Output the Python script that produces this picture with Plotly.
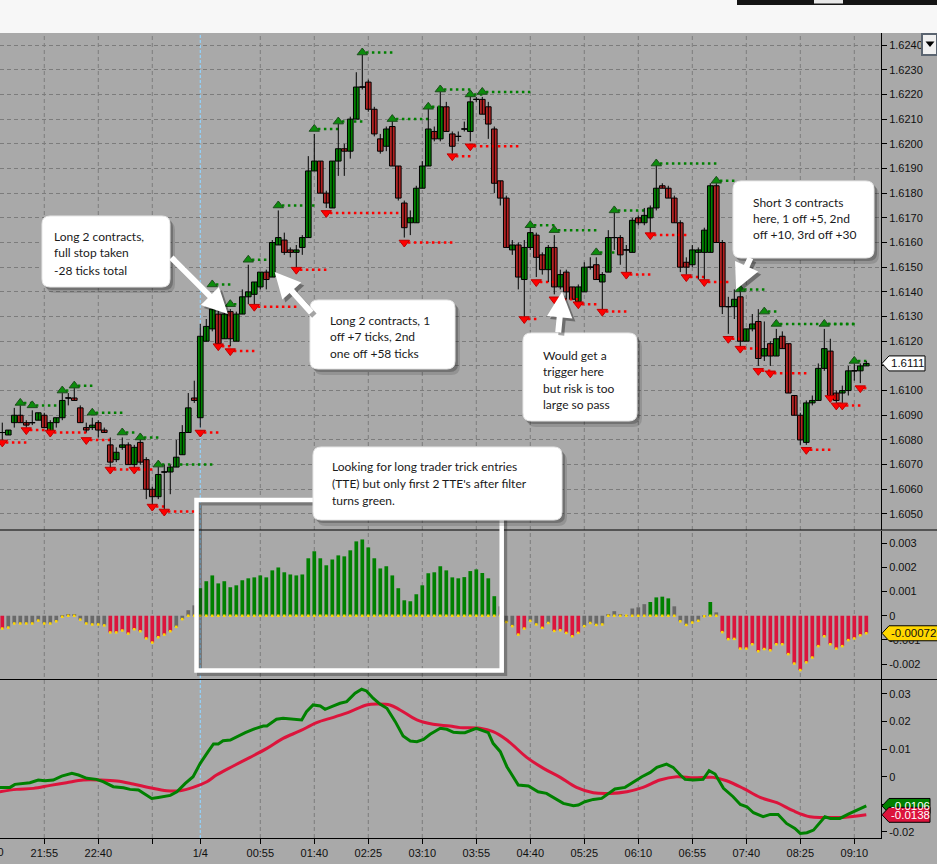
import plotly.graph_objects as go
from plotly.subplots import make_subplots

# ---------------------------------------------------------------
# Data: 5-minutersstaplar, index 0 = 21:20, sista = 09:20
# ---------------------------------------------------------------
tick_bars = [7, 16, 25, 33, 43, 52, 61, 70, 79, 88, 97, 106, 115, 124, 133, 142]
tick_labels = ['21:55', '22:40', '', '1/4', '00:55', '01:40', '02:25', '03:10', '03:55',
               '04:40', '05:25', '06:10', '06:55', '07:40', '08:25', '09:10']
day_break_bar = 33
first_label = '21:10'   # etiketten till vänster om första synliga stapeln

opens = [1.6083, 1.6082, 1.6087, 1.6090, 1.6087, 1.6087, 1.6088, 1.6090, 1.6083, 1.6087,
         1.6089, 1.6097, 1.6097, 1.6093, 1.6085, 1.6085, 1.6087, 1.6084, 1.6078, 1.6072,
         1.6077, 1.6078, 1.6070, 1.6079, 1.6072, 1.6060, 1.6057, 1.6067, 1.6067, 1.6069,
         1.6074, 1.6083, 1.6097, 1.6089, 1.6120, 1.6125, 1.6131, 1.6121, 1.6132, 1.6120,
         1.6131, 1.6138, 1.6139, 1.6142, 1.6148, 1.6146, 1.6159, 1.6161, 1.6157, 1.6156,
         1.6158, 1.6162, 1.6189, 1.6193, 1.6180, 1.6174, 1.6193, 1.6198, 1.6197, 1.6210,
         1.6223, 1.6225, 1.6214, 1.6202, 1.6199, 1.6207, 1.6191, 1.6176, 1.6168, 1.6168,
         1.6182, 1.6191, 1.6205, 1.6202, 1.6215, 1.6204, 1.6203, 1.6206, 1.6205, 1.6218,
         1.6218, 1.6215, 1.6206, 1.6185, 1.6178, 1.6157, 1.6159, 1.6145, 1.6158, 1.6163,
         1.6155, 1.6149, 1.6158, 1.6142, 1.6148, 1.6142, 1.6136, 1.6140, 1.6150, 1.6151,
         1.6144, 1.6148, 1.6162, 1.6162, 1.6157, 1.6156, 1.6170, 1.6168, 1.6170, 1.6174,
         1.6183, 1.6182, 1.6178, 1.6168, 1.6152, 1.6151, 1.6156, 1.6156, 1.6156, 1.6183,
         1.6160, 1.6134, 1.6134, 1.6138, 1.6120, 1.6125, 1.6128, 1.6114, 1.6119, 1.6114,
         1.6122, 1.6119, 1.6098, 1.6090, 1.6079, 1.6095, 1.6096, 1.6109, 1.6116, 1.6099,
         1.6099, 1.6100, 1.6108, 1.6108, 1.6110]
highs = [1.6087, 1.6084, 1.6093, 1.6094, 1.6088, 1.6092, 1.6091, 1.6091, 1.6088, 1.6089,
         1.6099, 1.6099, 1.6101, 1.6094, 1.6087, 1.6089, 1.6088, 1.6085, 1.6081, 1.6077,
         1.6081, 1.6079, 1.6078, 1.6081, 1.6073, 1.6061, 1.6069, 1.6070, 1.6070, 1.6080,
         1.6086, 1.6099, 1.6104, 1.6127, 1.6129, 1.6139, 1.6133, 1.6132, 1.6133, 1.6132,
         1.6141, 1.6151, 1.6144, 1.6148, 1.6149, 1.6161, 1.6173, 1.6164, 1.6158, 1.6159,
         1.6163, 1.6195, 1.6204, 1.6193, 1.6181, 1.6193, 1.6208, 1.6200, 1.6211, 1.6229,
         1.6236, 1.6226, 1.6215, 1.6204, 1.6207, 1.6210, 1.6191, 1.6177, 1.6173, 1.6183,
         1.6193, 1.6215, 1.6207, 1.6221, 1.6217, 1.6205, 1.6205, 1.6209, 1.6220, 1.6219,
         1.6219, 1.6217, 1.6207, 1.6185, 1.6179, 1.6161, 1.6160, 1.6161, 1.6166, 1.6164,
         1.6156, 1.6159, 1.6163, 1.6149, 1.6149, 1.6142, 1.6143, 1.6152, 1.6154, 1.6154,
         1.6148, 1.6165, 1.6172, 1.6163, 1.6159, 1.6170, 1.6171, 1.6174, 1.6175, 1.6192,
         1.6184, 1.6183, 1.6179, 1.6169, 1.6154, 1.6159, 1.6158, 1.6166, 1.6184, 1.6184,
         1.6161, 1.6138, 1.6141, 1.6141, 1.6125, 1.6131, 1.6133, 1.6128, 1.6120, 1.6125,
         1.6124, 1.6119, 1.6098, 1.6091, 1.6096, 1.6098, 1.6111, 1.6125, 1.6121, 1.6100,
         1.6102, 1.6110, 1.6111, 1.6111, 1.6112]
lows = [1.6080, 1.6082, 1.6085, 1.6087, 1.6085, 1.6086, 1.6088, 1.6085, 1.6083, 1.6085,
        1.6088, 1.6094, 1.6096, 1.6087, 1.6083, 1.6084, 1.6081, 1.6083, 1.6068, 1.6071,
        1.6076, 1.6070, 1.6068, 1.6070, 1.6056, 1.6053, 1.6056, 1.6052, 1.6058, 1.6069,
        1.6074, 1.6083, 1.6095, 1.6085, 1.6120, 1.6124, 1.6118, 1.6121, 1.6118, 1.6120,
        1.6131, 1.6135, 1.6135, 1.6141, 1.6141, 1.6146, 1.6159, 1.6155, 1.6154, 1.6150,
        1.6155, 1.6162, 1.6189, 1.6180, 1.6174, 1.6174, 1.6187, 1.6187, 1.6194, 1.6210,
        1.6222, 1.6213, 1.6203, 1.6196, 1.6197, 1.6191, 1.6177, 1.6162, 1.6163, 1.6168,
        1.6182, 1.6191, 1.6201, 1.6201, 1.6205, 1.6196, 1.6201, 1.6205, 1.6201, 1.6217,
        1.6212, 1.6202, 1.6180, 1.6175, 1.6158, 1.6155, 1.6141, 1.6129, 1.6157, 1.6146,
        1.6147, 1.6144, 1.6139, 1.6141, 1.6137, 1.6137, 1.6135, 1.6140, 1.6149, 1.6145,
        1.6132, 1.6148, 1.6157, 1.6151, 1.6148, 1.6156, 1.6167, 1.6167, 1.6163, 1.6173,
        1.6182, 1.6178, 1.6168, 1.6148, 1.6147, 1.6150, 1.6145, 1.6145, 1.6156, 1.6160,
        1.6131, 1.6123, 1.6129, 1.6118, 1.6120, 1.6124, 1.6110, 1.6112, 1.6110, 1.6114,
        1.6117, 1.6099, 1.6090, 1.6078, 1.6078, 1.6094, 1.6096, 1.6108, 1.6097, 1.6095,
        1.6095, 1.6098, 1.6104, 1.6103, 1.6110]
closes = [1.6083, 1.6084, 1.6090, 1.6087, 1.6086, 1.6087, 1.6091, 1.6085, 1.6087, 1.6089,
          1.6096, 1.6097, 1.6096, 1.6087, 1.6084, 1.6086, 1.6084, 1.6083, 1.6071, 1.6075,
          1.6078, 1.6070, 1.6077, 1.6071, 1.6060, 1.6057, 1.6066, 1.6067, 1.6069, 1.6073,
          1.6083, 1.6093, 1.6096, 1.6122, 1.6126, 1.6133, 1.6119, 1.6131, 1.6121, 1.6131,
          1.6138, 1.6140, 1.6144, 1.6148, 1.6145, 1.6160, 1.6162, 1.6156, 1.6156, 1.6157,
          1.6162, 1.6189, 1.6193, 1.6180, 1.6176, 1.6193, 1.6198, 1.6197, 1.6210, 1.6223,
          1.6223, 1.6214, 1.6204, 1.6197, 1.6206, 1.6191, 1.6178, 1.6166, 1.6170, 1.6182,
          1.6191, 1.6206, 1.6202, 1.6215, 1.6205, 1.6199, 1.6203, 1.6206, 1.6217, 1.6218,
          1.6212, 1.6208, 1.6184, 1.6178, 1.6158, 1.6159, 1.6146, 1.6158, 1.6164, 1.6154,
          1.6149, 1.6158, 1.6142, 1.6147, 1.6140, 1.6137, 1.6142, 1.6150, 1.6150, 1.6145,
          1.6147, 1.6162, 1.6162, 1.6155, 1.6157, 1.6169, 1.6168, 1.6171, 1.6174, 1.6182,
          1.6182, 1.6178, 1.6168, 1.6150, 1.6150, 1.6157, 1.6157, 1.6165, 1.6183, 1.6160,
          1.6134, 1.6134, 1.6137, 1.6120, 1.6125, 1.6127, 1.6113, 1.6117, 1.6114, 1.6121,
          1.6117, 1.6099, 1.6090, 1.6080, 1.6095, 1.6096, 1.6109, 1.6117, 1.6098, 1.6096,
          1.6100, 1.6108, 1.6108, 1.6110, 1.6111]

# Swing-toppar (grön pil + prickad linje) och swing-bottnar (röd pil + prickad linje)
sh_bars = [3, 5, 10, 12, 15, 20, 23, 26, 35, 38, 41, 46, 52, 56, 60, 65, 71, 73, 78, 80,
           88, 92, 99, 102, 109, 119, 123, 127, 129, 137, 142]
sh_levels = [1.6095, 1.6094, 1.6100, 1.6102, 1.6091, 1.6083, 1.6081, 1.6070, 1.6143, 1.6135,
             1.6153, 1.6175, 1.6206, 1.6209, 1.6237, 1.6210, 1.6215, 1.6222, 1.6220, 1.6221,
             1.6167, 1.6165, 1.6156, 1.6173, 1.6192, 1.6185, 1.6141, 1.6132, 1.6127, 1.6127,
             1.6112]
sh_ends = [5, 9, 11, 15, 20, 22, 26, 35, 38, 40, 44, 52, 56, 60, 65, 71, 73, 78, 80, 88,
           92, 99, 102, 107, 119, 122, 127, 129, 142, 142, 144]

sl_bars = [0, 4, 8, 14, 18, 22, 25, 27, 33, 36, 38, 42, 49, 54, 67, 75, 78, 87, 89, 92,
           96, 100, 104, 108, 114, 117, 121, 123, 126, 128, 134, 138, 139, 140, 143]
sl_levels = [1.6079, 1.6084, 1.6083, 1.6080, 1.6068, 1.6068, 1.6053, 1.6051, 1.6083, 1.6118,
             1.6116, 1.6134, 1.6149, 1.6172, 1.6160, 1.6195, 1.6199, 1.6129, 1.6144, 1.6137,
             1.6135, 1.6132, 1.6147, 1.6163, 1.6146, 1.6144, 1.6121, 1.6117, 1.6108, 1.6107,
             1.6076, 1.6097, 1.6094, 1.6094, 1.6101]
sl_ends = [4, 8, 14, 18, 22, 25, 27, 32, 36, 38, 42, 49, 54, 66, 75, 78, 86, 89, 92, 96,
           99, 104, 108, 114, 117, 121, 123, 126, 128, 134, 138, 139, 143, 140, 144]

# Filterhistogram och dess tillstånd (g = grön, r = röd, n = neutral)
filter_hist = [-0.00053, -0.00049, -0.00032, -0.00032, -0.00032, -0.00032, -0.00020, -0.00032, -0.00032, -0.00023,
               -0.00004, 0.00006, 0.00006, -0.00016, -0.00032, -0.00036, -0.00036, -0.00040, -0.00069, -0.00069,
               -0.00061, -0.00074, -0.00056, -0.00064, -0.00094, -0.00111, -0.00089, -0.00078, -0.00064, -0.00046,
               -0.00014, 0.00023, 0.00043, 0.00114, 0.00143, 0.00167, 0.00134, 0.00143, 0.00118, 0.00126,
               0.00147, 0.00155, 0.00159, 0.00167, 0.00159, 0.00188, 0.00200, 0.00180, 0.00171, 0.00167,
               0.00171, 0.00238, 0.00267, 0.00238, 0.00209, 0.00233, 0.00250, 0.00246, 0.00271, 0.00308,
               0.00316, 0.00283, 0.00238, 0.00196, 0.00205, 0.00167, 0.00114, 0.00064, 0.00060, 0.00089,
               0.00126, 0.00176, 0.00180, 0.00205, 0.00188, 0.00159, 0.00155, 0.00160, 0.00185, 0.00192,
               0.00177, 0.00155, 0.00081, 0.00039, -0.00026, -0.00043, -0.00078, -0.00053, -0.00021, -0.00036,
               -0.00050, -0.00030, -0.00063, -0.00060, -0.00071, -0.00085, -0.00071, -0.00043, -0.00030, -0.00038,
               -0.00036, 0.00005, 0.00019, 0.00006, 0.00001, 0.00030, 0.00035, 0.00048, 0.00057, 0.00076,
               0.00079, 0.00072, 0.00039, -0.00023, -0.00038, -0.00028, -0.00021, -0.00002, 0.00057, 0.00014,
               -0.00068, -0.00097, -0.00096, -0.00136, -0.00136, -0.00118, -0.00147, -0.00138, -0.00143, -0.00118,
               -0.00118, -0.00159, -0.00198, -0.00225, -0.00193, -0.00173, -0.00126, -0.00085, -0.00118, -0.00136,
               -0.00126, -0.00101, -0.00094, -0.00081, -0.000726]
filter_state = ("rnnnnnnnnnnnnnnnnnrrrrrrrrrrrnnnn"
                "gggggggggggggggggggggggggggggggggggggggggggggggggg"
                "nnnrrnnrnrrrrrnnnnnnnnnnnggggnnnnnngn"
                "rrrrrrrrrrrrrrrrrrrrrrrrr")

# Nedre panelen: snabb (grön) och långsam (röd) linje
fast_bars = [-0.4, 1.3, 2.1, 3.5, 4.6, 6.0, 7.1, 8.5, 9.9, 11.6, 12.7, 14.1, 15.7, 16.8, 18.5,
             20.2, 21.3, 22.7, 24.1, 24.9, 26.0, 28.0, 29.1, 30.5, 31.8, 33.0, 34.3, 35.2, 36.0,
             36.8, 38.0, 39.1, 40.5, 41.8, 43.5, 44.1, 45.7, 46.8, 48.5, 49.9, 50.7, 51.8, 53.0,
             53.8, 55.2, 56.3, 57.4, 58.8, 59.9, 60.7, 61.8, 63.0, 64.1, 65.5, 66.8, 68.0, 69.1,
             70.2, 71.3, 73.0, 74.1, 75.2, 76.3, 77.1, 79.0, 81.0, 81.8, 83.0, 84.1, 85.2, 86.0,
             87.7, 89.3, 90.7, 92.1, 93.5, 95.2, 96.0, 97.1, 98.5, 99.9, 101.0, 102.1, 103.8,
             105.2, 106.6, 108.0, 109.1, 110.7, 111.8, 113.0, 113.8, 115.2, 116.8, 117.8, 118.8,
             120.2, 121.8, 123.0, 124.1, 125.2, 126.8, 128.0, 129.3, 130.7, 132.1, 133.0, 134.1,
             135.2, 136.3, 137.1, 138.0, 139.6, 141.0, 142.4, 144.0]
fast_line = [-0.00387, -0.00387, -0.00278, -0.00242, -0.00218, -0.00121, -0.00145, -0.00121, 0.00024, 0.00121,
             0.00060, -0.00060, -0.00097, -0.00181, -0.00363, -0.00399, -0.00459, -0.00484, -0.00665, -0.00786,
             -0.00750, -0.00677, -0.00544, -0.00242, 0.0, 0.00484, 0.00907, 0.01185, 0.01185, 0.01306,
             0.01330, 0.01451, 0.01596, 0.01717, 0.01838, 0.01838, 0.02080, 0.02116, 0.02080, 0.02056,
             0.02358, 0.02600, 0.02563, 0.02443, 0.02563, 0.02660, 0.02721, 0.03023, 0.03168, 0.03108,
             0.02842, 0.02624, 0.02479, 0.01995, 0.01475, 0.01294, 0.01270, 0.01354, 0.01536, 0.01753,
             0.01717, 0.01608, 0.01596, 0.01596, 0.01753, 0.01596, 0.01209, 0.00907, 0.00363, 0.0,
             -0.00302, -0.00339, -0.00544, -0.00605, -0.00786, -0.00967, -0.01052, -0.01028, -0.00907, -0.00822,
             -0.00786, -0.00605, -0.00447, -0.00387, -0.00181, 0.0, 0.00157, 0.00339, 0.00459, 0.00339,
             0.00060, -0.00097, -0.00121, -0.00097, 0.00218, 0.00097, -0.00423, -0.00726, -0.01004, -0.01088,
             -0.01306, -0.01451, -0.01366, -0.01366, -0.01693, -0.01874, -0.02056, -0.02031, -0.01935, -0.01632,
             -0.01451, -0.01511, -0.01511, -0.01354, -0.01209, -0.0106]
slow_bars = [-0.4, 2.4, 5.2, 8.0, 10.7, 13.5, 16.3, 19.1, 21.8, 24.6, 27.4, 29.6, 31.8, 34.1, 35.7,
             38.5, 41.3, 44.1, 46.8, 49.6, 52.4, 55.2, 58.0, 60.7, 62.4, 64.6, 66.3, 69.1, 71.8,
             74.6, 76.3, 79.6, 81.8, 84.1, 87.4, 90.2, 93.0, 95.7, 98.5, 101.3, 104.1, 106.8, 109.6,
             112.4, 115.2, 118.5, 120.7, 123.5, 126.3, 129.1, 131.8, 134.6, 137.4, 140.2, 144.0]
slow_line = [-0.00544, -0.00459, -0.00423, -0.00314, -0.00218, -0.00121, -0.00121, -0.00157, -0.00266, -0.00399,
             -0.00508, -0.00508, -0.00387, -0.00181, 0.00060, 0.00387, 0.00701, 0.01028, 0.01391, 0.01657,
             0.01959, 0.02152, 0.02358, 0.02600, 0.02636, 0.02600, 0.02418, 0.02056, 0.01898, 0.01838,
             0.01778, 0.01753, 0.01632, 0.01330, 0.00701, 0.00302, -0.00024, -0.00387, -0.00580, -0.00605,
             -0.00544, -0.00387, -0.00121, 0.0, -0.00036, -0.00024, -0.00145, -0.00423, -0.00750, -0.00943,
             -0.01233, -0.01451, -0.01475, -0.01475, -0.0138]

# ---------------------------------------------------------------
# Geometri (px) och hjälpfunktioner
# ---------------------------------------------------------------
W, H = 937, 864
M_R, M_T, M_B = 56, 33, 26
PW = W - M_R
PH = H - M_T - M_B
BG = '#A9A9A9'
FONT = 'Liberation Sans'
NOTE_FONT = 'Lato'


def paper(xp, yp):
    """Pixelposition på sidan -> paper-koordinater."""
    return xp / PW, (H - M_B - yp) / PH


price_dom = [paper(0, 530)[1], 1.0]
hist_dom = [paper(0, 679)[1], paper(0, 531)[1]]
line_dom = [0.0, paper(0, 680)[1]]
price_rng = [1.60435, 1.62449]
hist_rng = [-0.00262, 0.00351]
line_rng = [-0.02221, 0.03504]
x_rng = [-0.38, 146.45]


def rounded_rect(x0, y0, x1, y1, r):
    pts = [('M', x0 + r, y0), ('L', x1 - r, y0), ('Q', x1, y0), ('', x1, y0 + r),
           ('L', x1, y1 - r), ('Q', x1, y1), ('', x1 - r, y1), ('L', x0 + r, y1),
           ('Q', x0, y1), ('', x0, y1 - r), ('L', x0, y0 + r), ('Q', x0, y0), ('', x0 + r, y0)]
    out = []
    for cmd, xp, yp in pts:
        px_, py_ = paper(xp, yp)
        out.append(f"{cmd}{px_:.5f},{py_:.5f}")
    return ' '.join(out) + ' Z'


def units_per_px(dom, rng):
    return (rng[1] - rng[0]) / ((dom[1] - dom[0]) * PH)


bars = list(range(len(opens)))

fig = make_subplots(rows=3, cols=1, shared_xaxes=True, vertical_spacing=0.0)


def dotted(bars_, levels, ends, color):
    xs, ys = [], []
    for b, lv, e in zip(bars_, levels, ends):
        xs += [b + 0.6, e + 0.4, None]
        ys += [lv, lv, None]
    return go.Scatter(x=xs, y=ys, mode='lines', hoverinfo='skip',
                      line=dict(color=color, width=2.5, dash='2.5px,3.5px'))


fig.add_trace(dotted(sh_bars, sh_levels, sh_ends, '#008000'), row=1, col=1)
fig.add_trace(dotted(sl_bars, sl_levels, sl_ends, '#FF0000'), row=1, col=1)

# Ljus: vekar som linjer, kroppar som staplar med bas
wick_x, wick_y = [], []
for i, (o, h, l, c) in enumerate(zip(opens, highs, lows, closes)):
    wick_x += [i, i, None]
    wick_y += [l, h, None]
    if o == c:
        wick_x += [i - 0.47, i + 0.47, None]
        wick_y += [o, o, None]
fig.add_trace(go.Scatter(x=wick_x, y=wick_y, mode='lines', hoverinfo='skip',
                         line=dict(color='black', width=1)), row=1, col=1)
fig.add_trace(go.Bar(
    x=bars, y=[abs(c - o) for o, c in zip(opens, closes)],
    base=[min(o, c) for o, c in zip(opens, closes)], width=0.94,
    marker=dict(color=['#008000' if c >= o else '#B22222' for o, c in zip(opens, closes)],
                line=dict(color='black', width=1)),
), row=1, col=1)

fig.add_trace(go.Scatter(x=sh_bars, y=sh_levels, mode='markers',
                         marker=dict(symbol='triangle-up', size=9, color='#0c8c0c',
                                     line=dict(color='#1d4d1d', width=1))), row=1, col=1)
fig.add_trace(go.Scatter(x=sl_bars, y=sl_levels, mode='markers',
                         marker=dict(symbol='triangle-down', size=9, color='#FF0000',
                                     line=dict(color='#c00000', width=1))), row=1, col=1)

state_colors = {'g': '#008000', 'r': '#DC143C', 'n': '#696969'}
fig.add_trace(go.Bar(x=bars, y=filter_hist, width=0.62,
                     marker=dict(color=[state_colors[s] for s in filter_state], line=dict(width=0))),
              row=2, col=1)
fig.add_trace(go.Scatter(x=bars, y=[min(v, 0) for v in filter_hist], mode='markers',
                         marker=dict(symbol='square', size=2.5, color='#FFD700')), row=2, col=1)

fig.add_trace(go.Scatter(x=slow_bars, y=slow_line, mode='lines', line_shape='spline',
                         line=dict(color='#DC143C', width=3)), row=3, col=1)
fig.add_trace(go.Scatter(x=fast_bars, y=fast_line, mode='lines',
                         line=dict(color='#008000', width=3)), row=3, col=1)

# ---------------------------------------------------------------
# Axlar
# ---------------------------------------------------------------
axis_font = dict(family=FONT, size=11, color='#101010')
for name in ['xaxis', 'xaxis2', 'xaxis3']:
    fig.layout[name].update(range=x_rng, showgrid=False, zeroline=False, rangeslider_visible=False,
                            showticklabels=False, ticks='')
fig.layout.xaxis3.update(tickmode='array', tickvals=tick_bars, ticktext=tick_labels,
                         showticklabels=True, ticks='outside', ticklen=5, tickcolor='black',
                         showline=True, linecolor='black', linewidth=1, tickfont=axis_font)

common_y = dict(side='right', showline=True, linecolor='black', linewidth=1, ticks='outside',
                ticklen=5, tickcolor='black', zeroline=False, tickfont=axis_font)
fig.layout.yaxis.update(domain=price_dom, range=price_rng, tick0=1.6050, dtick=0.001,
                        tickformat='.4f', showgrid=True, gridcolor='#7c7c7c', griddash='4px,3px',
                        gridwidth=1, **common_y)
fig.layout.yaxis2.update(domain=hist_dom, range=hist_rng, showgrid=False,
                         tickvals=[0.003, 0.002, 0.001, 0, -0.001, -0.002],
                         ticktext=['0.003', '0.002', '0.001', '0', '-0.001', '-0.002'], **common_y)
fig.layout.yaxis3.update(domain=line_dom, range=line_rng, showgrid=False,
                         tickvals=[0.03, 0.02, 0.01, 0, -0.01, -0.02],
                         ticktext=['0.03', '0.02', '0.01', '0', '-0.01', '-0.02'], **common_y)

shapes = []
annotations = []

# Vertikala rutnätslinjer och dygnsskifte (under ljusen)
for b in tick_bars:
    if b == day_break_bar:
        continue
    shapes.append(dict(type='line', xref='x', yref='paper', x0=b, x1=b, y0=0, y1=1, layer='below',
                       line=dict(color='#7c7c7c', width=1, dash='4px,3px')))
shapes.append(dict(type='line', xref='x', yref='paper', x0=day_break_bar, x1=day_break_bar,
                   y0=0, y1=1, layer='below', line=dict(color='#8fd3ff', width=1.2, dash='3px,2px')))

# Panelavdelare
for yp in [530, 679.5]:
    x0, y0 = paper(0, yp)
    x1, _ = paper(W, yp)
    shapes.append(dict(type='line', xref='paper', yref='paper', x0=x0, x1=x1, y0=y0, y1=y0,
                       line=dict(color='black', width=1.2)))

# Fönsterlist överst och menyknapp
x0, y0 = paper(0, 0)
x1, y1 = paper(W, M_T)
shapes.append(dict(type='rect', xref='paper', yref='paper', x0=x0, x1=x1, y0=y1, y1=y0,
                   fillcolor='#F7F7F7', line=dict(width=0)))
x0, y0 = paper(737, 0)
x1, y1 = paper(W, 5)
shapes.append(dict(type='rect', xref='paper', yref='paper', x0=x0, x1=x1, y0=y1, y1=y0,
                   fillcolor='#151515', line=dict(width=0)))
x0, y0 = paper(814, 0)
x1, y1 = paper(843, 3.5)
shapes.append(dict(type='rect', xref='paper', yref='paper', x0=x0, x1=x1, y0=y1, y1=y0,
                   fillcolor='#E8E8E8', line=dict(width=0)))
x0, y0 = paper(922, 34)
x1, y1 = paper(937, 55)
shapes.append(dict(type='rect', xref='paper', yref='paper', x0=x0, x1=x1, y0=y1, y1=y0,
                   fillcolor='#F0F0F0', line=dict(color='#5a6470', width=2)))
tri = [paper(925.5, 41.5), paper(934.5, 41.5), paper(930, 47)]
shapes.append(dict(type='path', xref='paper', yref='paper', fillcolor='black', line=dict(width=0),
                   path=f"M{tri[0][0]},{tri[0][1]} L{tri[1][0]},{tri[1][1]} L{tri[2][0]},{tri[2][1]} Z"))

# Vit ram runt filterområdet
for off, col, wd in [(3, 'rgba(30,30,30,0.35)', 5), (0, 'white', 4.5)]:
    x0, y0 = paper(196.5 + off, 500 + off)
    x1, y1 = paper(501.7 + off, 670.5 + off)
    shapes.append(dict(type='rect', xref='paper', yref='paper', x0=x0, x1=x1, y0=y1, y1=y0,
                       layer='above', line=dict(color=col, width=wd)))

# Pratbubblor
notes = [
    ((42, 216, 170, 287), 52, 236, 17, ['Long 2 contracts,', 'full stop taken', '-28 ticks total']),
    ((310, 300, 455, 369), 328, 320, 16.5, ['Long 2 contracts, 1', 'off +7 ticks, 2nd', 'one off +58 ticks']),
    ((523, 333, 637, 421), 541, 355, 16.5, ['Would get a', 'trigger here', 'but risk is too', 'large so pass']),
    ((733, 181, 874, 258), 751, 202, 16.5, ['Short 3 contracts', 'here, 1 off +5, 2nd', 'off +10, 3rd off +30']),
    ((313, 447, 562, 520), 330, 466, 17.5, ['Looking for long trader trick entries',
                                            "(TTE) but only first 2 TTE's after filter", 'turns green.']),
]
for (bx0, by0, bx1, by1), tx, ty, dy, lines in notes:
    shapes.append(dict(type='path', xref='paper', yref='paper', layer='above', line=dict(width=0),
                       fillcolor='rgba(0,0,0,0.13)', path=rounded_rect(bx0 + 4, by0 + 5, bx1 + 5, by1 + 6, 9)))
    shapes.append(dict(type='path', xref='paper', yref='paper', layer='above', line=dict(width=0),
                       fillcolor='rgba(0,0,0,0.22)', path=rounded_rect(bx0 + 2, by0 + 3, bx1 + 3, by1 + 3, 8)))
    shapes.append(dict(type='path', xref='paper', yref='paper', layer='above',
                       line=dict(color='#e6e6e6', width=1), fillcolor='white',
                       path=rounded_rect(bx0, by0, bx1, by1, 8)))
    for k, txt in enumerate(lines):
        ax_, ay_ = paper(tx, ty + k * dy)
        annotations.append(dict(xref='paper', yref='paper', x=ax_, y=ay_, text=txt, showarrow=False,
                                xanchor='left', yanchor='middle',
                                font=dict(family=NOTE_FONT, size=12, color='#1a1a1a')))

# Stora vita pilar (spets i data, svans i px)
arrows = [(37.6, 1.6131, -58, -58), (45.4, 1.6148, 38, 42), (93.3, 1.6140, -4, 42), (122.3, 1.6141, 15, -33)]
for bx, py, ax_, ay_ in arrows:
    for sh, col in [(3, 'rgba(0,0,0,0.35)'), (0, 'white')]:
        annotations.append(dict(xref='x', yref='y', x=bx, y=py, ax=ax_, ay=ay_, text='',
                                showarrow=True, arrowhead=2, arrowsize=0.85, arrowwidth=6,
                                arrowcolor=col, xshift=sh, yshift=-sh))

# Värdeetiketter till höger
tags = [
    ('y', closes[-1], f"{closes[-1]:.4f}", 'white', '#101010', price_dom, price_rng, 925),
    ('y2', filter_hist[-1], f"{filter_hist[-1]:.6f}", '#FFD700', '#101010', hist_dom, hist_rng, 945),
    ('y3', fast_line[-1], f"{fast_line[-1]:.4f}", '#008000', 'white', line_dom, line_rng, 930),
    ('y3', slow_line[-1], f"{slow_line[-1]:.4f}", '#DC143C', 'white', line_dom, line_rng, 930),
]
for yref, v, txt, fill, tcol, dom, rng, xend in tags:
    half = 7.5 * units_per_px(dom, rng)
    xt = paper(882, 0)[0]
    xb = paper(889, 0)[0]
    xe = paper(xend, 0)[0]
    shapes.append(dict(type='path', xref='paper', yref=yref, fillcolor=fill,
                       line=dict(color='black', width=1),
                       path=f"M{xt},{v} L{xb},{v + half} L{xe},{v + half} L{xe},{v - half} L{xb},{v - half} Z"))
    annotations.append(dict(xref='paper', yref=yref, x=paper(889, 0)[0], y=v, text=txt,
                            showarrow=False, xanchor='left', yanchor='middle',
                            font=dict(family=FONT, size=11.5, color=tcol)))

# Delvis synlig tidsetikett längst till vänster
lx, ly = paper(-9.7, 852)
annotations.append(dict(xref='paper', yref='paper', x=lx, y=ly, text=first_label,
                        showarrow=False, xanchor='center', yanchor='middle', font=axis_font))

fig.update_layout(
    width=W, height=H, autosize=False,
    margin=dict(l=0, r=M_R, t=M_T, b=M_B, pad=0),
    paper_bgcolor=BG, plot_bgcolor=BG,
    showlegend=False, barmode='overlay',
    font=dict(family=FONT, size=11, color='#101010'),
    shapes=shapes, annotations=annotations,
)

# Sidan utan standardmarginal så att figuren fyller fönstret exakt
fig.write_html("out.html", config={'displayModeBar': False},
               post_script="document.body.style.margin='0px';document.body.style.overflow='hidden';")
